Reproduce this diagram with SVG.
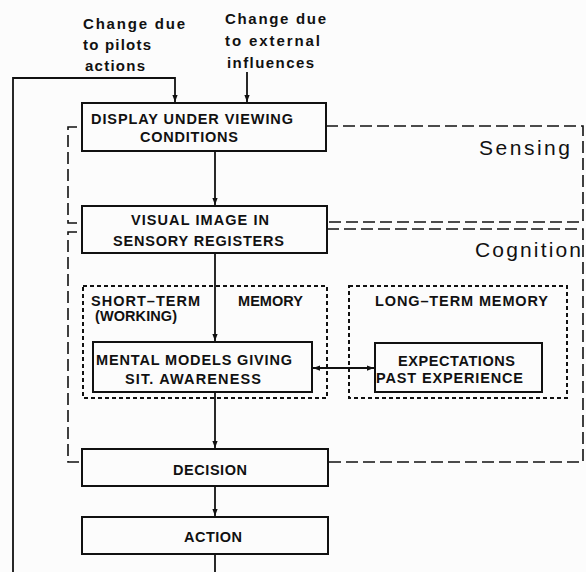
<svg xmlns="http://www.w3.org/2000/svg" width="586" height="572" viewBox="0 0 586 572">
<style>
.bg{fill:#fcfcfc}
.box{fill:none;stroke:#111;stroke-width:2}
.dash{fill:none;stroke:#111;stroke-width:1.6;stroke-dasharray:12 5}
.dot{fill:none;stroke:#111;stroke-width:2;stroke-dasharray:4 3}
.ln{fill:none;stroke:#111;stroke-width:1.8}
text{font-family:"Liberation Sans",Arial,sans-serif;font-weight:bold;fill:#111}
.lab{font-size:15px}
.nd{font-size:14.5px}
.big{font-weight:normal;font-size:21px}
</style>
<defs>
<marker id="ah" viewBox="0 0 8 8" refX="8" refY="4" markerWidth="7" markerHeight="7" markerUnits="userSpaceOnUse" orient="auto-start-reverse">
<path d="M0,1 L8,4 L0,7 Z" fill="#111"/>
</marker>
</defs>
<rect class="bg" x="0" y="0" width="586" height="572"/>

<g id="labels">
<text class="lab" x="83" y="29" textLength="102" lengthAdjust="spacing">Change due</text>
<text class="lab" x="83" y="50" textLength="68" lengthAdjust="spacing">to pilots</text>
<text class="lab" x="85" y="71" textLength="60" lengthAdjust="spacing">actions</text>
<text class="lab" x="225" y="24" textLength="101" lengthAdjust="spacing">Change due</text>
<text class="lab" x="225" y="46" textLength="95" lengthAdjust="spacing">to external</text>
<text class="lab" x="227" y="68" textLength="87" lengthAdjust="spacing">influences</text>
</g>

<g id="sensing">
<path class="dash" d="M77,127 H68 V223 H82"/>
<path class="dash" d="M326,126 H583 V222 H327"/>
<text class="big" x="479" y="155" textLength="91" lengthAdjust="spacing">Sensing</text>
</g>

<g id="cognition">
<path class="dash" d="M77,232 H68 V462 H82"/>
<path class="dash" d="M327,229 H583 V462 H328"/>
<text class="big" x="475" y="257" textLength="106" lengthAdjust="spacing">Cognition</text>
</g>

<g id="short-term-memory">
<rect class="dot" x="83" y="286" width="244" height="112"/>
<text class="nd" x="91" y="306" textLength="109" lengthAdjust="spacing">SHORT–TERM</text>
<text class="nd" x="95" y="321" textLength="82" lengthAdjust="spacing">(WORKING)</text>
<text class="nd" x="238" y="306" textLength="65" lengthAdjust="spacing">MEMORY</text>
</g>

<g id="long-term-memory">
<rect class="dot" x="349" y="286" width="218" height="112"/>
<text class="nd" x="375" y="306" textLength="173" lengthAdjust="spacing">LONG–TERM MEMORY</text>
</g>

<g id="display">
<rect class="box" x="82" y="103" width="244" height="48"/>
<text class="nd" x="91" y="124" textLength="202" lengthAdjust="spacing">DISPLAY UNDER VIEWING</text>
<text class="nd" x="140" y="142" textLength="98" lengthAdjust="spacing">CONDITIONS</text>
</g>

<g id="visual-image">
<rect class="box" x="82" y="206" width="245" height="47"/>
<text class="nd" x="131" y="225" textLength="138" lengthAdjust="spacing">VISUAL IMAGE IN</text>
<text class="nd" x="113" y="246" textLength="171" lengthAdjust="spacing">SENSORY REGISTERS</text>
</g>

<g id="mental-models">
<rect class="box" x="93" y="342" width="219" height="50"/>
<text class="nd" x="96" y="365" textLength="196" lengthAdjust="spacing">MENTAL MODELS GIVING</text>
<text class="nd" x="125" y="384" textLength="136" lengthAdjust="spacing">SIT. AWARENESS</text>
</g>

<g id="expectations">
<rect class="box" x="375" y="343" width="167" height="49"/>
<text class="nd" x="398" y="366" textLength="117" lengthAdjust="spacing">EXPECTATIONS</text>
<text class="nd" x="376" y="383" textLength="147" lengthAdjust="spacing">PAST EXPERIENCE</text>
</g>

<g id="decision">
<rect class="box" x="82" y="449" width="246" height="37"/>
<text class="nd" x="173" y="475" textLength="74" lengthAdjust="spacing">DECISION</text>
</g>

<g id="action">
<rect class="box" x="82" y="517" width="246" height="37"/>
<text class="nd" x="184" y="542" textLength="58" lengthAdjust="spacing">ACTION</text>
</g>

<g id="connectors">
<path class="ln" d="M215,572 V554"/>
<path class="ln" d="M13,572 V78 H175 V102" marker-end="url(#ah)"/>
<path class="ln" d="M247,72 V102" marker-end="url(#ah)"/>
<path class="ln" d="M215,151 V205" marker-end="url(#ah)"/>
<path class="ln" d="M215,253 V341" marker-end="url(#ah)"/>
<path class="ln" d="M313,368 H374" marker-start="url(#ah)" marker-end="url(#ah)"/>
<path class="ln" d="M215,392 V448" marker-end="url(#ah)"/>
<path class="ln" d="M215,486 V516" marker-end="url(#ah)"/>
</g>
</svg>
